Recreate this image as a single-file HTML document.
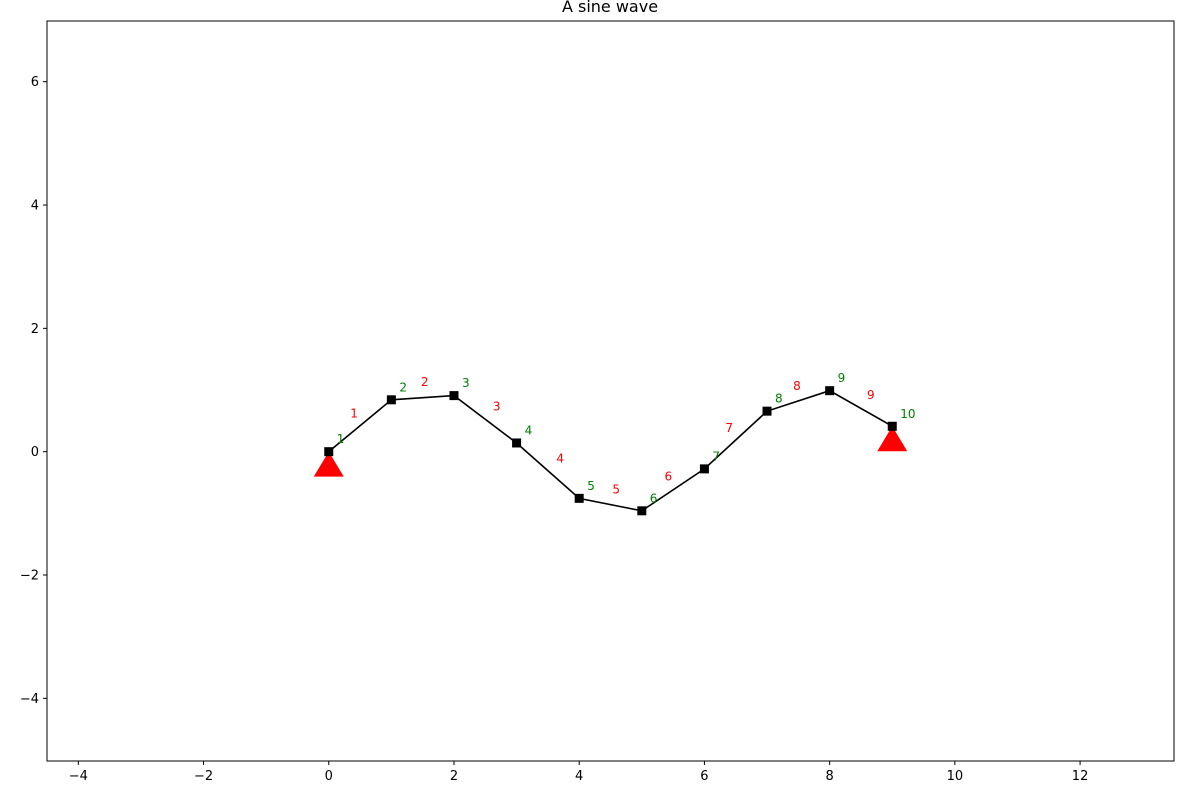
<!DOCTYPE html>
<html><head><meta charset="utf-8"><style>
body{margin:0;background:#fff;}
svg{display:block;font-family:"DejaVu Sans","Liberation Sans",sans-serif;}
</style></head><body>
<svg id="chart" width="1200" height="800" xmlns="http://www.w3.org/2000/svg">
<rect width="1200" height="800" fill="#fff"/>
<text x="610" y="12" text-anchor="middle" font-size="16">A sine wave</text>
<g id="plot"></g>
</svg>
<script>
const nodeX=[0,1,2,3,4,5,6,7,8,9];
const nodeY=[0,0.841,0.909,0.141,-0.757,-0.959,-0.279,0.657,0.989,0.412];
const nodeLabels=["1","2","3","4","5","6","7","8","9","10"];
const elementLabels=["1","2","3","4","5","6","7","8","9"];
const supportNodes=[0,9];
const xTicks=[-4,-2,0,2,4,6,8,10,12];
const yTicks=[-4,-2,0,2,4,6];
const xMin=-4.5,xMax=13.5,yMin=-5,yMax=7;
const L=47,R=1174,T=20,B=760;
const sx=v=>L+(v-xMin)/(xMax-xMin)*(R-L);
const sy=v=>B-(v-yMin)/(yMax-yMin)*(B-T);
const g=document.getElementById('plot');
const NS='http://www.w3.org/2000/svg';
function mk(tag,attrs,parent){const e=document.createElementNS(NS,tag);for(const k in attrs)e.setAttribute(k,attrs[k]);(parent||g).appendChild(e);return e;}
let e=mk('rect',{x:L,y:21,width:R-L,height:740,fill:'none',stroke:'#000','stroke-width':1});


xTicks.forEach(t=>{const x=sx(t);
 let l=mk('line',{x1:x,x2:x,y1:761,y2:765,stroke:'#000'});
 
 
 let s=mk('text',{x:x,y:780,'text-anchor':'middle','font-size':13});s.textContent=t<0?'\u2212'+(-t):t;
 
 });
yTicks.forEach(t=>{const y=sy(t);
 let l=mk('line',{x1:L-4,x2:L,y1:y,y2:y,stroke:'#000'});
 
 
 let s=mk('text',{x:L-8,y:y+4.5,'text-anchor':'end','font-size':13});s.textContent=t<0?'\u2212'+(-t):t;
 
 });
let pts=nodeX.map((x,i)=>sx(x)+','+sy(nodeY[i])).join(' ');
let pl=mk('polyline',{points:pts,fill:'none',stroke:'#000','stroke-width':1.6});


elementLabels.forEach((lab,i)=>{
 const x1=sx(nodeX[i]),y1=sy(nodeY[i]),x2=sx(nodeX[i+1]),y2=sy(nodeY[i+1]);
 const dx=x2-x1,dy=y2-y1,len=Math.hypot(dx,dy);
 let nx=dy/len,ny=-dx/len; if(ny>0){nx=-nx;ny=-ny;}
 const mx=(x1+x2)/2+nx*14+3,my=(y1+y2)/2+ny*14-1.5;
 let t=mk('text',{x:mx,y:my+4,'text-anchor':'middle','font-size':12,fill:'#ff0000'});t.textContent=lab;
 
 });
supportNodes.forEach(i=>{const x=sx(nodeX[i]),y=sy(nodeY[i]);
 let p=mk('polygon',{points:`${x},${y} ${x-15},${y+25} ${x+15},${y+25}`,fill:'#ff0000'});
 
 });
nodeX.forEach((xv,i)=>{const x=sx(xv),y=sy(nodeY[i]);
 let r=mk('rect',{x:x-4.5,y:y-4.5,width:9,height:9,fill:'#000'});
 
 
 let t=mk('text',{x:x+8,y:y-8.5,'font-size':12,fill:'#008000'});t.textContent=nodeLabels[i];
 
 });
</script>
</body></html>
